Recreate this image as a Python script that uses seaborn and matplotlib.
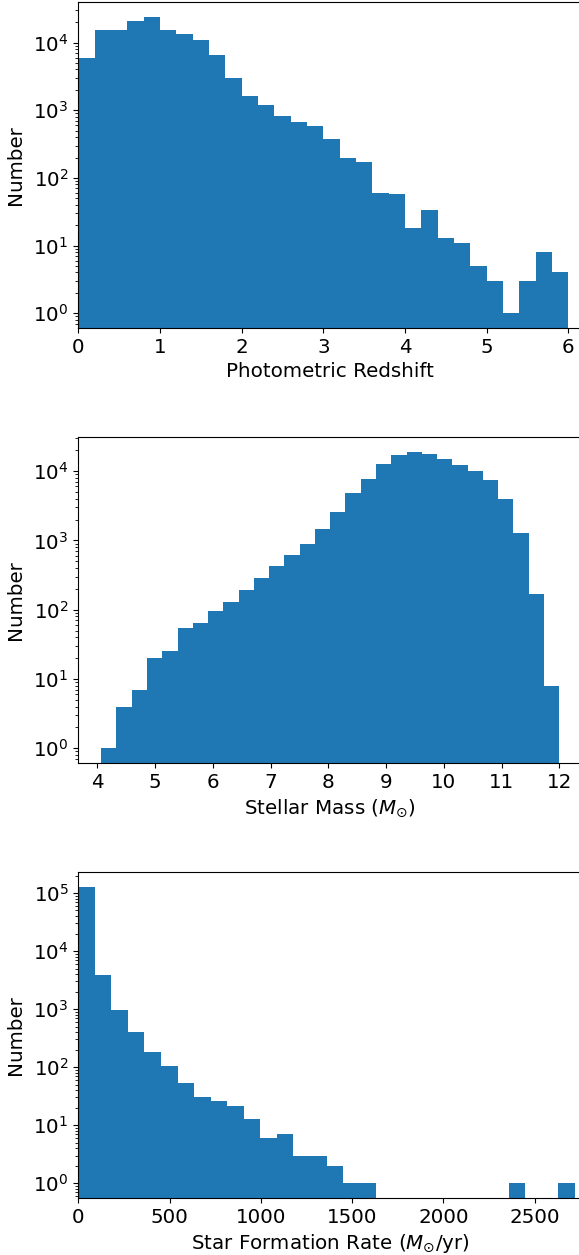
import matplotlib
matplotlib.use("Agg")
import matplotlib.pyplot as plt
from matplotlib.ticker import MultipleLocator
import numpy as np
import pandas as pd
import seaborn as sns

# counts per bin
redshift_edges = np.linspace(0.0, 6.0, 31)
redshift_counts = [6000, 15500, 15500, 20500, 24000, 15500, 13200, 11000, 6600, 2950,
                   1600, 1180, 830, 680, 590, 380, 200, 174, 59, 57,
                   18, 33, 13, 11, 5, 3, 1, 3, 8, 4]

mass_edges = np.linspace(4.064, 12.0, 31)
mass_counts = [1, 4, 7, 20, 25, 55, 65, 97, 131, 195,
               290, 433, 623, 898, 1480, 2590, 4870, 7760, 12760, 17200,
               19000, 17800, 15050, 12340, 10100, 7500, 3990, 1290, 171, 8]

sfr_edges = np.linspace(0.0, 2720.0, 31)
sfr_counts = [128000, 3900, 980, 410, 185, 106, 54, 30, 26, 21,
              13, 6, 7, 3, 3, 2, 1, 1, 0, 0,
              0, 0, 0, 0, 0, 0, 1, 0, 0, 1]

xlabels = ["Photometric Redshift", r"Stellar Mass ($M_{\odot}$)",
           r"Star Formation Rate ($M_{\odot}$/yr)"]

plt.rcParams.update({"font.size": 14.3, "font.family": ["DejaVu Sans"]})

fig = plt.figure(figsize=(5.79, 12.55), dpi=100)
# axes run a little past the right edge, like the cropped original
positions = [
    [0.1352, 0.7386, 0.8705, 0.2598],
    [0.1352, 0.3920, 0.8705, 0.2598],
    [0.1352, 0.0454, 0.8705, 0.2598],
]
xlims = [(0, 6.17), (3.667, 12.40), (0, 2761)]
xsteps = [1, 1, 500]
panels = [
    (redshift_edges, redshift_counts),
    (mass_edges, mass_counts),
    (sfr_edges, sfr_counts),
]

for pos, (edges, counts), xlim, step, xlabel in zip(positions, panels, xlims, xsteps, xlabels):
    ax = fig.add_axes(pos)
    df = pd.DataFrame({"value": 0.5 * (edges[:-1] + edges[1:]), "count": counts})
    sns.histplot(data=df, x="value", weights="count", bins=list(edges), ax=ax,
                 color="#1f77b4", alpha=1, edgecolor="none", linewidth=0)
    ax.set_yscale("log")
    ax.relim()
    ax.autoscale_view()
    ax.set_xlim(*xlim)
    ax.xaxis.set_major_locator(MultipleLocator(step))
    ax.set_xlabel(xlabel)
    ax.set_ylabel("Number", labelpad=6)

fig.savefig("out.png", dpi=100)
